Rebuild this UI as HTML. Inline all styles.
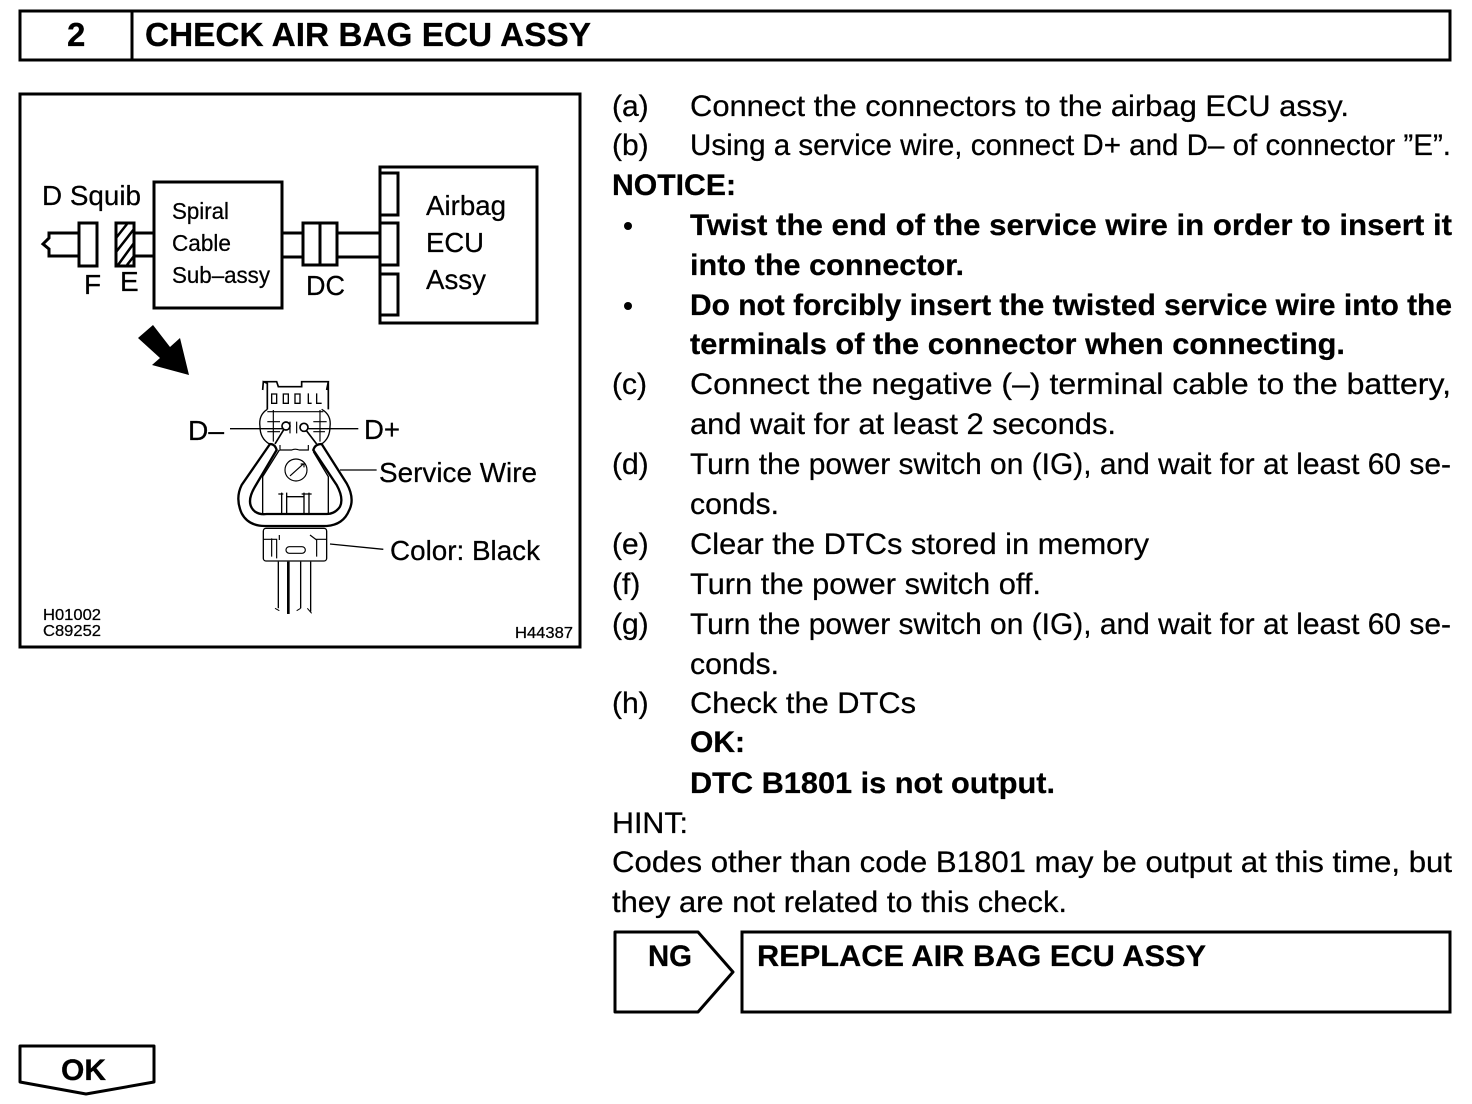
<!DOCTYPE html>
<html><head><meta charset="utf-8"><style>
html,body{margin:0;padding:0;background:#fff}
svg{display:block}
text{font-family:"Liberation Sans",sans-serif;fill:#000;stroke:#000;stroke-width:.25}
.t{font-size:30px}
.b{font-size:30px;font-weight:bold}
.d{font-size:28px}
.s{font-size:23px}
.m{font-size:16px}
.l{fill:none;stroke:#000}
</style></head><body>
<svg width="1472" height="1104" viewBox="0 0 1472 1104" xmlns="http://www.w3.org/2000/svg">
<rect x="20" y="11" width="1430" height="49" class="l" stroke-width="3"/>
<line x1="132" y1="11" x2="132" y2="60" class="l" stroke-width="3"/>
<text x="67" y="46" font-size="33" font-weight="bold">2</text>
<text x="145" y="46" font-size="33" font-weight="bold" textLength="446" lengthAdjust="spacingAndGlyphs">CHECK AIR BAG ECU ASSY</text>

<rect x="20" y="94" width="560" height="553" class="l" stroke-width="3"/>
<text class="d" x="42" y="205" textLength="99" lengthAdjust="spacingAndGlyphs">D Squib</text>
<rect x="154" y="182" width="128" height="126" class="l" stroke-width="3"/>
<text class="s" x="172" y="219" textLength="57" lengthAdjust="spacingAndGlyphs">Spiral</text>
<text class="s" x="172" y="251" textLength="59" lengthAdjust="spacingAndGlyphs">Cable</text>
<text class="s" x="172" y="283" textLength="98" lengthAdjust="spacingAndGlyphs">Sub–assy</text>
<path class="l" stroke-width="3" d="M79,233H49V238L43,244L49,249V256H79"/>
<rect x="79" y="223" width="18" height="43" class="l" stroke-width="3"/>
<rect x="116" y="223" width="18" height="43" fill="#fff" stroke="#000" stroke-width="3"/>
<path class="l" stroke-width="2.5" d="M116,238L127,224M116,252L134,229M118,265L134,243M127,265L134,256"/>
<text class="d" x="84" y="294">F</text>
<text class="d" x="120" y="291">E</text>
<path class="l" stroke-width="3" d="M134,233H153M134,256H153M282,233H303M282,257H303M337,233H379M337,257H379"/>
<rect x="303" y="223" width="34" height="42" class="l" stroke-width="3"/>
<line x1="320" y1="223" x2="320" y2="265" class="l" stroke-width="3"/>
<text class="d" x="306" y="295" textLength="39" lengthAdjust="spacingAndGlyphs">DC</text>
<rect x="380" y="167" width="157" height="156" class="l" stroke-width="3"/>
<rect x="380" y="173" width="18" height="42" class="l" stroke-width="3"/>
<rect x="380" y="223" width="18" height="42" class="l" stroke-width="3"/>
<rect x="380" y="274" width="18" height="41" class="l" stroke-width="3"/>
<text class="d" x="426" y="215" textLength="80" lengthAdjust="spacingAndGlyphs">Airbag</text>
<text class="d" x="426" y="252" textLength="58" lengthAdjust="spacingAndGlyphs">ECU</text>
<text class="d" x="426" y="289" textLength="60" lengthAdjust="spacingAndGlyphs">Assy</text>
<polygon points="153,325 138,338 160,358 152,365 189,375 180,338 170,347"/>

<g transform="translate(180,370) scale(.3333)">
<g fill="none" stroke="#000" stroke-width="3.5">
<path stroke-width="5" d="M262,118V40L250,35L248,60M248,35H290L295,50H365V35H445L440,60M445,35V118"/>
<path stroke-width="4" d="M275,72V100H290V72ZM310,72V100H325V72ZM345,72V100H360V72ZM385,70V100H395M410,70V100H425"/>
<path stroke-width="4" d="M262,118Q235,135 240,170Q240,205 268,222M425,118Q455,135 450,170Q450,205 425,222"/>
<path d="M262,125H430M262,185H300M262,155H300M400,155H440M400,185H435M280,120V215M420,120V215M330,155V190M350,155V190"/>
<path d="M300,225V240H330L335,240Q345,235 358,240H385V225"/>
<circle cx="348" cy="300" r="33"/>
<path d="M330,318L370,282M362,282H372V292"/>
<path stroke-width="4" d="M298,240L248,320V430M400,245L445,320V430"/>
<path stroke-width="4" d="M305,430V368M320,430V368M372,430V368M387,430V368M320,380H372M295,372H310M365,372H395"/>
<rect x="250" y="475" width="190" height="98" rx="8" stroke-width="4"/>
<path d="M250,508H290V565M440,508H410V560M275,505V560M298,495V510M390,495L410,510"/>
<rect x="318" y="530" width="58" height="20" rx="10"/>
</g>
<path class="l" stroke="#000" fill="none" stroke-width="7" d="M270,222L185,345Q165,385 185,430Q205,468 255,468H440Q490,465 508,420Q525,385 500,340L425,222Q405,222 400,240L470,345Q492,385 480,410Q465,432 440,432H260Q240,435 225,425Q195,400 225,350L290,240Q285,222 270,222Z"/>
<g stroke="#000" fill="none">
<path stroke-width="5" d="M285,222L320,165M410,222L370,170"/>
<circle cx="318" cy="168" r="12" fill="#fff" stroke-width="5"/><circle cx="372" cy="172" r="12" fill="#fff" stroke-width="5"/>
<path stroke-width="4" d="M150,176H310M385,176H535M480,300H590M450,522L610,538"/>
<path stroke-width="4" d="M295,575V715M362,575V715M392,575V725"/>
<path stroke-width="8" d="M325,575V732"/>
<path stroke-width="3" d="M285,715L298,722M350,722L362,715M382,715L395,730"/>
</g>
</g>
<text class="d" x="188" y="440" textLength="36" lengthAdjust="spacingAndGlyphs">D–</text>
<text class="d" x="364" y="439" textLength="36" lengthAdjust="spacingAndGlyphs">D+</text>
<text class="d" x="379" y="482" textLength="158" lengthAdjust="spacingAndGlyphs">Service Wire</text>
<text class="d" x="390" y="560" textLength="150" lengthAdjust="spacingAndGlyphs">Color: Black</text>
<text class="m" x="43" y="620" textLength="58" lengthAdjust="spacingAndGlyphs">H01002</text>
<text class="m" x="43" y="636" textLength="58" lengthAdjust="spacingAndGlyphs">C89252</text>
<text class="m" x="515" y="638" textLength="58" lengthAdjust="spacingAndGlyphs">H44387</text>

<text class="t" x="612" y="116">(a)</text><text class="t" x="690" y="116" textLength="659" lengthAdjust="spacingAndGlyphs">Connect the connectors to the airbag ECU assy.</text>
<text class="t" x="612" y="155">(b)</text><text class="t" x="690" y="155" textLength="761" lengthAdjust="spacingAndGlyphs">Using a service wire, connect D+ and D– of connector ”E”.</text>
<text class="b" x="612" y="195" textLength="124" lengthAdjust="spacingAndGlyphs">NOTICE:</text>
<circle cx="628" cy="226" r="4"/>
<text class="b" x="690" y="235" textLength="762" lengthAdjust="spacingAndGlyphs">Twist the end of the service wire in order to insert it</text>
<text class="b" x="690" y="275" textLength="274" lengthAdjust="spacingAndGlyphs">into the connector.</text>
<circle cx="628" cy="306" r="4"/>
<text class="b" x="690" y="315" textLength="762" lengthAdjust="spacingAndGlyphs">Do not forcibly insert the twisted service wire into the</text>
<text class="b" x="690" y="354" textLength="655" lengthAdjust="spacingAndGlyphs">terminals of the connector when connecting.</text>
<text class="t" x="612" y="394">(c)</text><text class="t" x="690" y="394" textLength="761" lengthAdjust="spacingAndGlyphs">Connect the negative (–) terminal cable to the battery,</text>
<text class="t" x="690" y="434" textLength="426" lengthAdjust="spacingAndGlyphs">and wait for at least 2 seconds.</text>
<text class="t" x="612" y="474">(d)</text><text class="t" x="690" y="474" textLength="761" lengthAdjust="spacingAndGlyphs">Turn the power switch on (IG), and wait for at least 60 se-</text>
<text class="t" x="690" y="514" textLength="89" lengthAdjust="spacingAndGlyphs">conds.</text>
<text class="t" x="612" y="554">(e)</text><text class="t" x="690" y="554" textLength="459" lengthAdjust="spacingAndGlyphs">Clear the DTCs stored in memory</text>
<text class="t" x="612" y="594">(f)</text><text class="t" x="690" y="594" textLength="351" lengthAdjust="spacingAndGlyphs">Turn the power switch off.</text>
<text class="t" x="612" y="634">(g)</text><text class="t" x="690" y="634" textLength="761" lengthAdjust="spacingAndGlyphs">Turn the power switch on (IG), and wait for at least 60 se-</text>
<text class="t" x="690" y="674" textLength="89" lengthAdjust="spacingAndGlyphs">conds.</text>
<text class="t" x="612" y="713">(h)</text><text class="t" x="690" y="713" textLength="226" lengthAdjust="spacingAndGlyphs">Check the DTCs</text>
<text class="b" x="690" y="752" textLength="55" lengthAdjust="spacingAndGlyphs">OK:</text>
<text class="b" x="690" y="793" textLength="365" lengthAdjust="spacingAndGlyphs">DTC B1801 is not output.</text>
<text class="t" x="612" y="833" textLength="76" lengthAdjust="spacingAndGlyphs">HINT:</text>
<text class="t" x="612" y="872" textLength="840" lengthAdjust="spacingAndGlyphs">Codes other than code B1801 may be output at this time, but</text>
<text class="t" x="612" y="912" textLength="455" lengthAdjust="spacingAndGlyphs">they are not related to this check.</text>

<path class="l" stroke-width="3" stroke-linejoin="round" d="M615,932H698L733,972L698,1012H615Z"/>
<text class="b" x="648" y="966" textLength="44" lengthAdjust="spacingAndGlyphs">NG</text>
<rect x="742" y="932" width="708" height="80" class="l" stroke-width="3"/>
<text class="b" x="757" y="966" textLength="449" lengthAdjust="spacingAndGlyphs">REPLACE AIR BAG ECU ASSY</text>
<path class="l" stroke-width="3" stroke-linejoin="round" d="M20,1046H154V1082L86,1094L20,1082Z"/>
<text class="b" x="61" y="1080" textLength="45" lengthAdjust="spacingAndGlyphs">OK</text>
</svg>
</body></html>
